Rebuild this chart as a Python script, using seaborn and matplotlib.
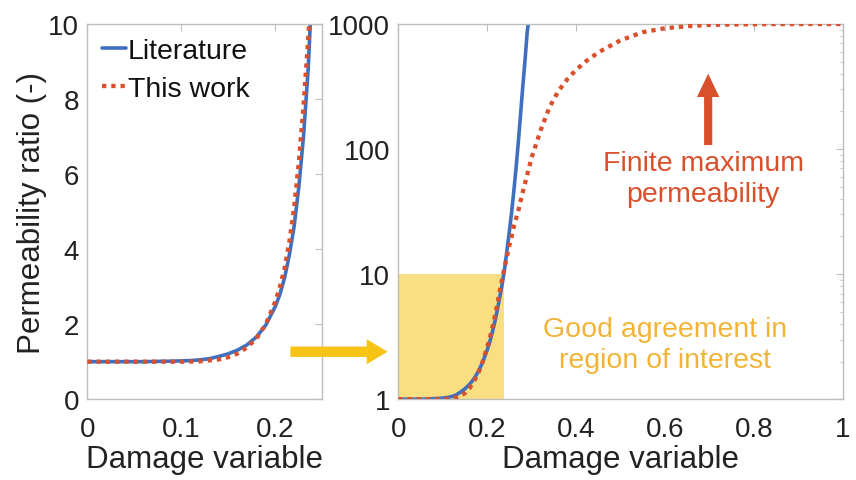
import numpy as np
import pandas as pd
import matplotlib
matplotlib.use("Agg")
import matplotlib.pyplot as plt
import seaborn as sns
from matplotlib.patches import FancyArrowPatch
from matplotlib.ticker import FixedLocator, NullFormatter, LogLocator

# ---- data ----
lit_damage = [0.00, 0.02, 0.04, 0.06, 0.08, 0.10, 0.11, 0.12, 0.13, 0.14, 0.15, 0.16,
              0.17, 0.18, 0.19, 0.20, 0.205, 0.21, 0.215, 0.22, 0.225, 0.23, 0.235,
              0.24, 0.245, 0.25, 0.255, 0.26, 0.265, 0.27, 0.275, 0.28, 0.285, 0.29, 0.294]
lit_perm = [1.00, 1.00, 1.00, 1.00, 1.01, 1.02, 1.03, 1.05, 1.08, 1.14, 1.21, 1.31,
            1.45, 1.66, 1.98, 2.47, 2.80, 3.25, 3.85, 4.60, 5.65, 7.00, 8.80,
            11.5, 15.9, 22.0, 31.0, 46.0, 70.0, 112.0, 185.0, 310.0, 500.0, 850.0, 1100.0]

work_damage = [0.00, 0.02, 0.04, 0.06, 0.08, 0.10, 0.12, 0.14, 0.15, 0.16, 0.17, 0.18,
               0.19, 0.20, 0.205, 0.21, 0.215, 0.22, 0.225, 0.23, 0.235, 0.24, 0.245,
               0.25, 0.255, 0.26, 0.27, 0.28, 0.29, 0.30, 0.32, 0.34, 0.36, 0.38, 0.40,
               0.43, 0.46, 0.50, 0.55, 0.60, 0.65, 0.70, 0.80, 0.90, 1.00]
work_perm = [1.00, 1.00, 1.00, 1.00, 1.00, 1.00, 1.01, 1.06, 1.12, 1.22, 1.38, 1.62,
             2.00, 2.60, 3.00, 3.50, 4.20, 5.10, 6.30, 7.80, 9.60, 11.6, 14.2,
             17.0, 20.0, 24.0, 32.0, 45.0, 62.0, 85.0, 140.0, 215.0, 290.0, 360.0, 430.0,
             530.0, 620.0, 740.0, 860.0, 925.0, 960.0, 985.0, 997.0, 1000.0, 1000.0]

series_names = ["Literature", "This work"]
left_xticks = [0, 0.1, 0.2]
left_yticks = [0, 2, 4, 6, 8, 10]
right_xticks = [0, 0.2, 0.4, 0.6, 0.8, 1]
right_yticks = [1, 10, 100, 1000]
region_damage = [0, 0.238]
region_perm = [1, 10]

df = pd.concat([
    pd.DataFrame({"Damage": lit_damage, "Perm": lit_perm, "Model": series_names[0]}),
    pd.DataFrame({"Damage": work_damage, "Perm": work_perm, "Model": series_names[1]}),
])

# ---- style ----
sns.set_theme(style="white")
plt.rcParams["font.family"] = ["Liberation Sans", "DejaVu Sans"]

BLUE = "#3f6fc0"
RED = "#d9502c"
FILL = "#f9de82"
YARROW = "#f7c416"
YTEXT = "#f2b436"
SPINE = "#bdbdbd"

fig = plt.figure(figsize=(8.56, 4.81), dpi=100)
axL = fig.add_axes([0.102, 0.168, 0.2745, 0.78])
axR = fig.add_axes([0.4653, 0.168, 0.519, 0.78])

palette = {series_names[0]: BLUE, series_names[1]: RED}

for ax in (axL, axR):
    for name, ls, lw, z in [(series_names[0], "-", 2.6, 2), (series_names[1], (0, (1, 1.15)), 3.1, 3)]:
        sub = df[df["Model"] == name]
        sns.lineplot(data=sub, x="Damage", y="Perm", ax=ax, color=palette[name],
                     linestyle=ls, linewidth=lw, label=name, zorder=z,
                     estimator=None, sort=False)

# left axes
axL.set_xlim(0, 0.25)
axL.set_ylim(0, 10)
axL.set_xticks(left_xticks)
axL.set_xticklabels(["0", "0.1", "0.2"])
axL.set_yticks(left_yticks)
axL.set_yticklabels([str(t) for t in left_yticks])
axL.set_xlabel("Damage variable", fontsize=22.5, labelpad=1.5)
axL.set_ylabel("Permeability ratio (-)", fontsize=22.5, labelpad=1)
leg = axL.legend(loc="upper left", frameon=False, fontsize=20.5, handlelength=0.85,
                 handletextpad=0.08, labelspacing=0.42, borderaxespad=0.1,
                 bbox_to_anchor=(0.0, 1.0))

# right axes
axR.set_yscale("log")
axR.set_xlim(0, 1)
axR.set_ylim(1, 1000)
axR.set_xticks(right_xticks)
axR.set_xticklabels(["0", "0.2", "0.4", "0.6", "0.8", "1"])
axR.yaxis.set_major_locator(FixedLocator(right_yticks))
axR.set_yticklabels([str(t) for t in right_yticks])
axR.yaxis.set_minor_locator(LogLocator(base=10, subs=np.arange(2, 10)))
axR.yaxis.set_minor_formatter(NullFormatter())
axR.set_xlabel("Damage variable", fontsize=22.5, labelpad=1.5)
axR.set_ylabel("")
if axR.get_legend() is not None:
    axR.get_legend().remove()

axR.fill_between(region_damage, region_perm[0], region_perm[1], color=FILL, zorder=1, lw=0)

for ax in (axL, axR):
    for sp in ax.spines.values():
        sp.set_color(SPINE)
        sp.set_linewidth(1.0)
    ax.tick_params(axis="both", which="major", direction="in", length=5, width=0.8,
                   color=SPINE, labelsize=20, top=True, right=True,
                   labelcolor="#222222")
    ax.tick_params(axis="x", which="major", pad=12)
    ax.tick_params(axis="y", which="major", pad=6)
    ax.tick_params(axis="both", which="minor", direction="in", length=2.5, width=0.6,
                   color=SPINE, top=True, right=True)
    ax.xaxis.label.set_color("#222222")
    ax.yaxis.label.set_color("#222222")
for t in leg.get_texts():
    t.set_color("#111111")

# annotations
axR.text(0.686, 0.588, "Finite maximum\npermeability", transform=axR.transAxes,
         ha="center", va="center", fontsize=20.5, color=RED, linespacing=1.25)
axR.text(0.60, 0.146, "Good agreement in\nregion of interest", transform=axR.transAxes,
         ha="center", va="center", fontsize=20.5, color=YTEXT, linespacing=1.25)

red_arrow = FancyArrowPatch((0.6975, 0.67), (0.6975, 0.875), transform=axR.transAxes,
                            arrowstyle="simple,head_length=1.2,tail_width=0.42,head_width=1.15",
                            mutation_scale=14, color=RED, lw=0)
axR.add_patch(red_arrow)

y_arrow = FancyArrowPatch((0.336, 0.2667), (0.456, 0.2667), transform=fig.transFigure,
                          arrowstyle="simple,head_length=1.0,tail_width=0.5,head_width=1.2",
                          mutation_scale=15, color=YARROW, lw=0)
fig.patches.append(y_arrow)

fig.savefig("out.png", dpi=100)
